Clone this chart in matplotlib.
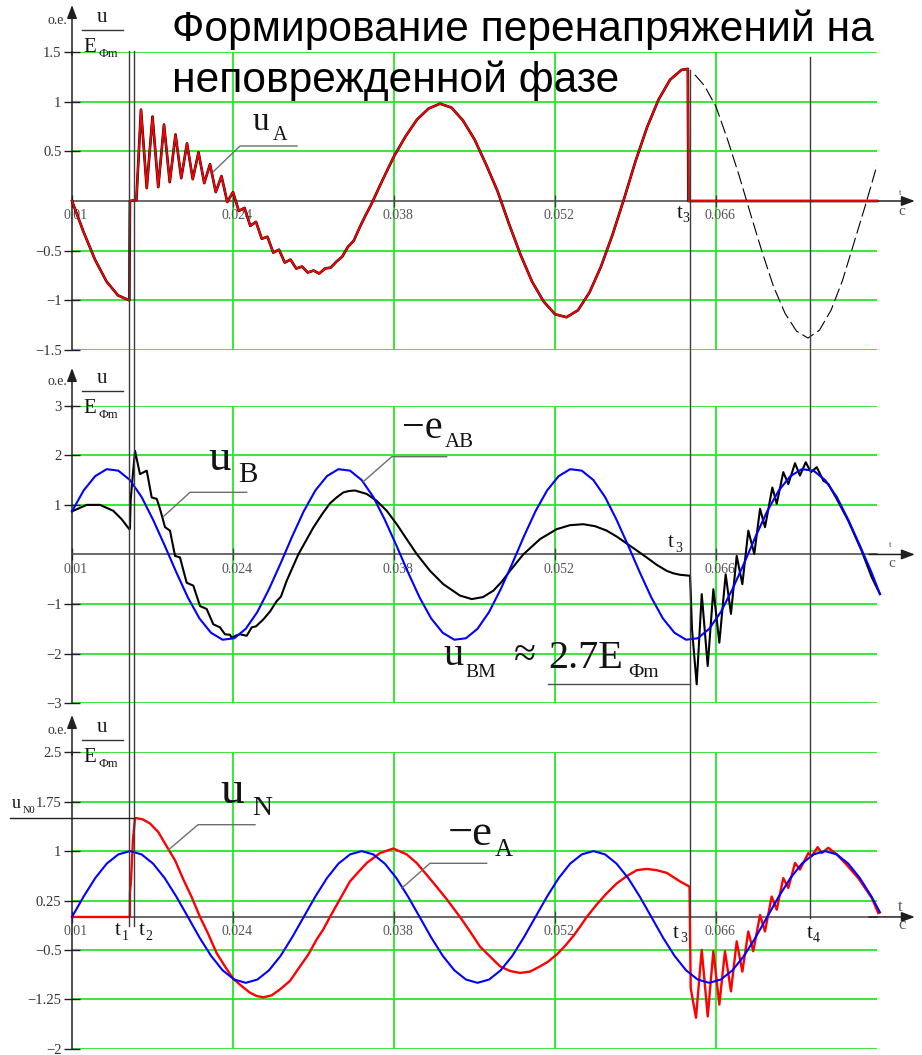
import matplotlib
matplotlib.use('Agg')
import matplotlib.pyplot as plt
import matplotlib.transforms as mtransforms
from matplotlib.lines import Line2D

plt.rcParams['font.family'] = ['Liberation Serif', 'DejaVu Serif']

# ---------------- data (time in s, voltage in o.e.) ----------------
x_ticks = [0.01, 0.024, 0.038, 0.052, 0.066]
x_tick_labels = ['0.01', '0.024', '0.038', '0.052', '0.066']

top_yticks = [-1.5, -1, -0.5, 0.5, 1, 1.5]
top_ylabels = ['\u22121.5', '\u22121', '\u22120.5', '0.5', '1', '1.5']
mid_yticks = [-3, -2, -1, 1, 2, 3]
mid_ylabels = ['\u22123', '\u22122', '\u22121', '1', '2', '3']
bot_yticks = [-2, -1.25, -0.5, 0.25, 1, 1.75, 2.5]
bot_ylabels = ['\u22122', '\u22121.25', '\u22120.5', '0.25', '1', '1.75', '2.5']

# switching moments
t1, t2, t3, t4 = 0.01498, 0.01537, 0.06374, 0.07417
u_n0 = 1.50     # neutral voltage level after t2
u_bm = -2.62    # max overvoltage on phase B

# sample times for the steady sources
t_grid = [0.01000, 0.01101, 0.01202, 0.01302, 0.01403, 0.01504, 0.01605, 0.01705, 0.01806, 0.01907,
          0.02008, 0.02108, 0.02209, 0.02310, 0.02411, 0.02511, 0.02612, 0.02713, 0.02814, 0.02914,
          0.03015, 0.03116, 0.03217, 0.03317, 0.03418, 0.03519, 0.03620, 0.03720, 0.03821, 0.03922,
          0.04023, 0.04123, 0.04224, 0.04325, 0.04426, 0.04526, 0.04627, 0.04728, 0.04829, 0.04929,
          0.05030, 0.05131, 0.05232, 0.05332, 0.05433, 0.05534, 0.05635, 0.05735, 0.05836, 0.05937,
          0.06038, 0.06138, 0.06239, 0.06340, 0.06441, 0.06541, 0.06642, 0.06743, 0.06844, 0.06944,
          0.07045, 0.07146, 0.07247, 0.07347, 0.07448, 0.07549, 0.07650, 0.07750, 0.07851, 0.07952,
          0.08026]

# -e_AB (middle, blue)
e_ab_neg = [0.87, 1.29, 1.58, 1.72, 1.69, 1.50, 1.16, 0.70, 0.18, -0.36,
            -0.87, -1.29, -1.58, -1.72, -1.69, -1.50, -1.16, -0.70, -0.18, 0.36,
            0.87, 1.29, 1.58, 1.72, 1.69, 1.50, 1.16, 0.70, 0.18, -0.36,
            -0.87, -1.29, -1.58, -1.72, -1.69, -1.50, -1.16, -0.70, -0.18, 0.36,
            0.87, 1.29, 1.58, 1.72, 1.69, 1.50, 1.16, 0.70, 0.18, -0.36,
            -0.87, -1.29, -1.58, -1.72, -1.69, -1.50, -1.16, -0.70, -0.18, 0.36,
            0.87, 1.29, 1.58, 1.72, 1.69, 1.50, 1.16, 0.70, 0.18, -0.36,
            -0.80]

# -e_A (bottom, blue)
e_a_neg = [0.00, 0.31, 0.59, 0.81, 0.95, 1.00, 0.95, 0.81, 0.59, 0.31,
           0.00, -0.31, -0.59, -0.81, -0.95, -1.00, -0.95, -0.81, -0.59, -0.31,
           0.00, 0.31, 0.59, 0.81, 0.95, 1.00, 0.95, 0.81, 0.59, 0.31,
           0.00, -0.31, -0.59, -0.81, -0.95, -1.00, -0.95, -0.81, -0.59, -0.31,
           0.00, 0.31, 0.59, 0.81, 0.95, 1.00, 0.95, 0.81, 0.59, 0.31,
           0.00, -0.31, -0.59, -0.81, -0.95, -1.00, -0.95, -0.81, -0.59, -0.31,
           0.00, 0.31, 0.59, 0.81, 0.95, 1.00, 0.95, 0.81, 0.59, 0.31,
           0.07]

# u_A (top, red)
t_ua = [0.0100, 0.0110, 0.0120, 0.0130, 0.0140, 0.01498, 0.01504, 0.01560, 0.01577, 0.01600,
        0.01650, 0.01700, 0.01750, 0.01800, 0.01850, 0.01900, 0.01950, 0.02000, 0.02050, 0.02100,
        0.02150, 0.02200, 0.02250, 0.02300, 0.02350, 0.02400, 0.02450, 0.02500, 0.02550, 0.02600,
        0.02650, 0.02700, 0.02750, 0.02800, 0.02850, 0.02900, 0.02950, 0.03000, 0.03050, 0.03100,
        0.03150, 0.03200, 0.03250, 0.03300, 0.03350, 0.03400, 0.03450, 0.03500, 0.03550, 0.03600,
        0.03700, 0.03800, 0.03900, 0.04000, 0.04100, 0.04200, 0.04300, 0.04400, 0.04500, 0.04600,
        0.04700, 0.04800, 0.04900, 0.05000, 0.05100, 0.05200, 0.05300, 0.05400, 0.05500, 0.05600,
        0.05700, 0.05800, 0.05900, 0.06000, 0.06100, 0.06200, 0.06300, 0.06355, 0.06360, 0.08000]
u_a = [0.00, -0.31, -0.59, -0.81, -0.95, -1.00, 0.00, 0.01, 0.40, 0.92,
       0.13, 0.85, 0.14, 0.77, 0.19, 0.67, 0.23, 0.58, 0.22, 0.49,
       0.18, 0.37, 0.09, 0.25, -0.01, 0.09, -0.10, -0.07, -0.25, -0.21,
       -0.38, -0.36, -0.52, -0.49, -0.62, -0.59, -0.68, -0.66, -0.72, -0.70,
       -0.73, -0.68, -0.67, -0.61, -0.56, -0.46, -0.40, -0.27, -0.15, -0.04,
       0.21, 0.45, 0.65, 0.82, 0.93, 0.98, 0.94, 0.81, 0.62, 0.37,
       0.10, -0.23, -0.54, -0.81, -1.01, -1.14, -1.17, -1.10, -0.92, -0.66,
       -0.34, 0.02, 0.40, 0.74, 1.02, 1.22, 1.32, 1.33, 0.00, 0.00]

# u_A without the breaker opening (top, dashed)
t_dash = [0.06417, 0.0650, 0.0660, 0.0670, 0.0680, 0.0690, 0.0700, 0.0710, 0.0720,
          0.0730, 0.0740, 0.0750, 0.0760, 0.0770, 0.0780, 0.0790, 0.0800]
u_dash = [1.27, 1.16, 0.95, 0.62, 0.26, -0.13, -0.51, -0.86, -1.13,
          -1.31, -1.38, -1.30, -1.10, -0.80, -0.42, -0.04, 0.36]

# u_B (middle, black)
t_ub = [0.01000, 0.01128, 0.01243, 0.01359, 0.01432, 0.01498, 0.01504, 0.01510, 0.01525, 0.01548,
        0.01591, 0.01650, 0.01693, 0.01737, 0.01765, 0.01809, 0.01852, 0.01896, 0.01939, 0.01997,
        0.02055, 0.02113, 0.02171, 0.02229, 0.02287, 0.02330, 0.02374, 0.02389, 0.02432, 0.02461,
        0.02519, 0.02563, 0.02600, 0.02664, 0.02722, 0.02780, 0.02817, 0.02867, 0.02968, 0.03040,
        0.03098, 0.03171, 0.03243, 0.03301, 0.03359, 0.03409, 0.03461, 0.03563, 0.03650, 0.03737,
        0.03824, 0.03910, 0.03997, 0.04113, 0.04229, 0.04374, 0.04476, 0.04574, 0.04664, 0.04737,
        0.04809, 0.04924, 0.05070, 0.05215, 0.05330, 0.05446, 0.05548, 0.05650, 0.05737, 0.05824,
        0.05911, 0.05997, 0.06085, 0.06171, 0.06229, 0.06287, 0.06374, 0.06380, 0.06391, 0.06432,
        0.06476, 0.06528, 0.06577, 0.06629, 0.06684, 0.06730, 0.06780, 0.06829, 0.06881, 0.06933,
        0.06983, 0.07026, 0.07090, 0.07128, 0.07185, 0.07229, 0.07287, 0.07330, 0.07380, 0.07426,
        0.07476, 0.07533, 0.07577, 0.07650, 0.07750, 0.07867, 0.07954, 0.08026]
u_b = [0.87, 1.00, 1.00, 0.88, 0.71, 0.51, 0.52, 1.10, 1.50, 2.09,
       1.62, 1.69, 1.15, 1.12, 0.92, 0.55, 0.48, -0.03, -0.06, -0.57,
       -0.63, -1.04, -1.10, -1.41, -1.47, -1.61, -1.62, -1.68, -1.63, -1.61,
       -1.64, -1.47, -1.45, -1.31, -1.15, -0.94, -0.85, -0.53, 0.00, 0.30,
       0.54, 0.80, 1.03, 1.15, 1.25, 1.28, 1.29, 1.22, 1.08, 0.88,
       0.61, 0.31, 0.01, -0.33, -0.60, -0.83, -0.90, -0.86, -0.73, -0.55,
       -0.33, 0.00, 0.31, 0.51, 0.59, 0.61, 0.57, 0.48, 0.36, 0.22,
       0.08, -0.06, -0.21, -0.33, -0.38, -0.41, -0.43, -0.75, -1.50, -2.62,
       -0.80, -2.25, -0.70, -1.78, -0.40, -1.20, -0.03, -0.60, 0.48, 0.01,
       0.92, 0.55, 1.35, 1.02, 1.66, 1.42, 1.84, 1.59, 1.86, 1.66,
       1.76, 1.49, 1.42, 1.12, 0.68, 0.07, -0.46, -0.80]

# u_N (bottom, red)
t_un = [0.01000, 0.01503, 0.01504, 0.01513, 0.01530, 0.01548, 0.01563, 0.01617, 0.01678, 0.01750,
        0.01824, 0.01896, 0.01968, 0.02041, 0.02113, 0.02185, 0.02258, 0.02330, 0.02403, 0.02476,
        0.02548, 0.02606, 0.02664, 0.02736, 0.02809, 0.02896, 0.02983, 0.03055, 0.03128, 0.03185,
        0.03243, 0.03330, 0.03417, 0.03489, 0.03563, 0.03678, 0.03794, 0.03910, 0.03997, 0.04142,
        0.04258, 0.04374, 0.04461, 0.04548, 0.04635, 0.04722, 0.04809, 0.04896, 0.04983, 0.05070,
        0.05139, 0.05215, 0.05287, 0.05359, 0.05417, 0.05476, 0.05563, 0.05650, 0.05737, 0.05824,
        0.05911, 0.05997, 0.06084, 0.06171, 0.06287, 0.06370, 0.06380, 0.06426, 0.06476, 0.06528,
        0.06577, 0.06629, 0.06678, 0.06730, 0.06780, 0.06829, 0.06881, 0.06924, 0.06983, 0.07026,
        0.07084, 0.07128, 0.07185, 0.07229, 0.07287, 0.07330, 0.07403, 0.07432, 0.07484, 0.07519,
        0.07577, 0.07650, 0.07737, 0.07837, 0.07954, 0.08011]
u_n = [0.00, 0.00, 0.37, 0.55, 1.17, 1.50, 1.50, 1.48, 1.42, 1.29,
       1.07, 0.86, 0.57, 0.30, 0.00, -0.26, -0.55, -0.75, -0.94, -1.05,
       -1.15, -1.20, -1.22, -1.19, -1.10, -0.97, -0.75, -0.57, -0.34, -0.19,
       0.00, 0.27, 0.54, 0.68, 0.82, 0.97, 1.04, 0.95, 0.82, 0.52,
       0.27, 0.00, -0.22, -0.45, -0.60, -0.75, -0.82, -0.85, -0.83, -0.75,
       -0.68, -0.57, -0.44, -0.29, -0.15, 0.00, 0.19, 0.36, 0.51, 0.62,
       0.71, 0.73, 0.71, 0.67, 0.54, 0.46, -1.08, -1.53, -0.50, -1.51,
       -0.52, -1.33, -0.52, -1.13, -0.37, -0.83, -0.22, -0.52, 0.03, -0.22,
       0.31, 0.11, 0.59, 0.44, 0.82, 0.72, 0.97, 0.92, 1.06, 0.97,
       1.05, 0.95, 0.79, 0.59, 0.29, 0.06]

# ---------------- figure ----------------
W, H = 922, 1055
fig = plt.figure(figsize=(W / 100, H / 100), dpi=100)

GREEN = '#26e626'
AXIS = '#505050'
INK = '#141414'
LEAD = '#6e6e6e'


def fx(x):
    return x / W


def fy(y):
    return 1 - y / H


def add_panel(top, bottom, tip, ylim, yticks, ylabels):
    ax = fig.add_axes([fx(72), fy(bottom), 805 / W, (bottom - top) / H])
    ax.set_xlim(0.01, 0.08)
    ax.set_ylim(*ylim)
    ax.patch.set_visible(False)
    for s in ('top', 'right'):
        ax.spines[s].set_visible(False)
    ax.spines['bottom'].set_position(('data', 0))
    ax.spines['bottom'].set_color(AXIS)
    ax.spines['bottom'].set_linewidth(1.2)
    ax.spines['left'].set_color('#202020')
    ax.spines['left'].set_linewidth(1.1)
    ax.set_xticks(x_ticks)
    ax.set_xticklabels(x_tick_labels)
    ax.set_yticks(yticks)
    ax.set_yticklabels(ylabels)
    ax.tick_params(axis='x', direction='inout', length=8, width=1, color='#404040',
                   pad=2, labelsize=10, labelcolor='#555555')
    ax.tick_params(axis='y', direction='inout', length=11, width=1, color='#202020',
                   pad=2, labelsize=10.5, labelcolor='#333333')
    shift = mtransforms.ScaledTranslation(0.04, 0, fig.dpi_scale_trans)
    for lab in ax.get_xticklabels():
        lab.set_transform(lab.get_transform() + shift)
    for v in yticks:
        ax.axhline(v, color=GREEN, lw=1.3, zorder=0.5)
    for v in x_ticks[1:]:
        ax.axvline(v, color=GREEN, lw=1.3, zorder=0.5)
    arrow = dict(arrowstyle='-|>,head_length=0.8,head_width=0.3', color='#202020',
                 lw=1.1, shrinkA=0, shrinkB=0, mutation_scale=10)
    ax.annotate('', xy=(1.047, 0), xycoords=ax.get_yaxis_transform(),
                xytext=(0.99, 0), textcoords=ax.get_yaxis_transform(),
                arrowprops=arrow, annotation_clip=False)
    ax.annotate('', xy=(0.01, 1 + (top - tip) / (bottom - top)), xycoords=ax.get_xaxis_transform(),
                xytext=(0.01, 0.99), textcoords=ax.get_xaxis_transform(),
                arrowprops=arrow, annotation_clip=False)
    return ax


def label(x, y, s, size, color=INK, family=None):
    kw = {} if family is None else {'family': family}
    fig.text(fx(x), fy(y), s, fontsize=size, color=color, ha='left', va='baseline', **kw)


def leader(pts):
    fig.add_artist(Line2D([fx(p[0]) for p in pts], [fy(p[1]) for p in pts],
                          transform=fig.transFigure, color=LEAD, lw=1.0))


def ylabel_block(u_base):
    label(47, u_base + 2, 'o.e.', 10, color='#333333')
    label(97, u_base, 'u', 15)
    fig.add_artist(Line2D([fx(82), fx(123)], [fy(u_base + 8)] * 2,
                          transform=fig.transFigure, color='#333333', lw=1.0))
    label(83, u_base + 30, 'E', 15)
    label(98, u_base + 35, '\u0424m', 9)


ax1 = add_panel(52, 350, 5, (-1.5, 1.5), top_yticks, top_ylabels)
ax2 = add_panel(405.7, 703.2, 368, (-3, 3), mid_yticks, mid_ylabels)
ax3 = add_panel(752.3, 1048.7, 715, (-2, 2.5), bot_yticks, bot_ylabels)

# curves
ax1.plot(t_ua, u_a, color='black', lw=1.9, zorder=3, clip_on=False)
ax1.plot(t_ua, u_a, color='#ff0000', lw=1.3, zorder=4, clip_on=False)
ax1.plot(t_dash, u_dash, color='black', lw=0.8, ls=(0, (12, 4)), zorder=3)

ax2.plot(t_ub, u_b, color='black', lw=1.5, zorder=3, clip_on=False)
ax2.plot(t_grid, e_ab_neg, color='#0000ff', lw=1.5, zorder=4, clip_on=False)

ax3.plot(t_un, u_n, color='#ff0000', lw=1.7, zorder=3, clip_on=False)
ax3.plot(t_grid, e_a_neg, color='#0000ff', lw=1.5, zorder=4, clip_on=False)

# switching-moment lines running through the panels
vtrans = mtransforms.blended_transform_factory(ax1.transData, fig.transFigure)
for tm, y0, y1 in [(t1, 51, 926), (t2, 51, 926), (t3, 70, 918), (t4, 57, 918)]:
    fig.add_artist(Line2D([tm, tm], [fy(y0), fy(y1)], transform=vtrans, color='#3c3c3c', lw=1.0))

# level lines for u_BM and u_N0
htrans2 = mtransforms.blended_transform_factory(fig.transFigure, ax2.transData)
fig.add_artist(Line2D([fx(548), fx(690)], [u_bm, u_bm], transform=htrans2, color='#505050', lw=1.0))
htrans3 = mtransforms.blended_transform_factory(fig.transFigure, ax3.transData)
fig.add_artist(Line2D([fx(10), fx(134)], [u_n0, u_n0], transform=htrans3, color='#202020', lw=1.0))

# title
label(172, 41, 'Формирование перенапряжений на', 30.6, color='black', family='Liberation Sans')
label(172, 92, 'неповрежденной фазе', 30.6, color='black', family='Liberation Sans')

# y-axis captions
ylabel_block(22)
ylabel_block(383)
ylabel_block(732)

# axis end captions
label(899, 195, 't', 6.5, color='#555555')
label(898, 215, 'c', 11, color='#555555')
label(889, 547, 't', 6.5, color='#555555')
label(888, 567, 'c', 11, color='#555555')
label(898, 911, 't', 12, color='#555555')
label(898, 929, 'c', 12, color='#555555')

# top panel annotations
label(253, 130, 'u', 24)
label(273, 140, 'A', 14.5)
leader([(213.3, 171.7), (240, 146), (297, 146)])
label(676.7, 218, 't', 15)
label(682.5, 222, '3', 10)

# middle panel annotations
label(208, 470, 'u', 32)
label(238, 482, 'B', 21)
leader([(163.3, 516.7), (190, 492.3), (246.7, 492.3)])
label(401.7, 438, '\u2212e', 29)
label(445, 447, 'AB', 15)
leader([(363.3, 481.7), (391.7, 456.7), (446.7, 456.7)])
label(668, 547, 't', 15)
label(675, 552, '3', 10)
label(443, 665, 'u', 29)
label(465, 677, 'BM', 14)
label(514, 666, '\u2248', 29)
label(548, 668, '2.7E', 29)
label(628, 677, '\u0424m', 14)

# bottom panel annotations
label(220, 803, 'u', 34)
label(252, 815, 'N', 20)
leader([(168.3, 850), (198, 824.7), (255, 824.7)])
label(448, 845, '\u2212e', 32)
label(495, 856, 'A', 18)
leader([(401.7, 888.3), (430, 863.3), (486.7, 863.3)])
label(12, 808, 'u', 13)
label(23, 813, 'N0', 7.5)
label(115, 935, 't', 15)
label(122, 940, '1', 10)
label(138.3, 935, 't', 15)
label(145.7, 940, '2', 10)
label(673, 938, 't', 15)
label(680, 942, '3', 10)
label(806.7, 938, 't', 15)
label(812.7, 942, '4', 10)

fig.savefig('out.png', dpi=100)
